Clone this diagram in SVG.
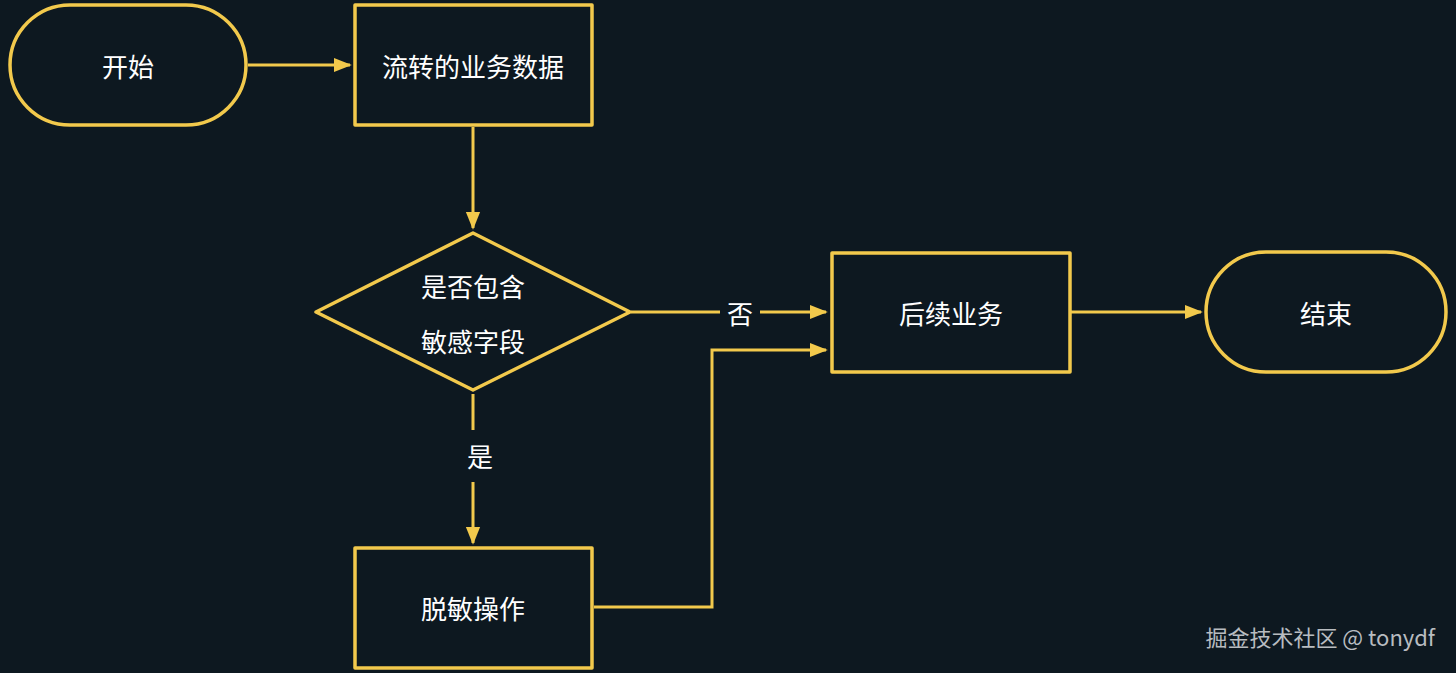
<svg xmlns="http://www.w3.org/2000/svg" width="1456" height="673" viewBox="0 0 1456 673">
<style>
.s{fill:none;stroke:#f2c94c;stroke-width:3.5;stroke-linejoin:round}
.c{fill:none;stroke:#f2c94c;stroke-width:3}
.t{fill:#ffffff;font-family:"Noto Sans CJK SC",sans-serif;font-size:26px;text-anchor:middle;dominant-baseline:central}
</style>
<defs><marker id="a" viewBox="0 0 10 10" refX="9" refY="5" markerWidth="6" markerHeight="6" orient="auto"><path d="M0,1 L10,5 L0,9 Z" fill="#f2c94c"/></marker></defs>
<rect width="1456" height="673" fill="#0d1820"/>
<g id="start"><rect class="s" x="10" y="5" width="236" height="120" rx="60"/><text class="t" x="128" y="65">开始</text></g>
<g id="data"><rect class="s" x="355" y="5" width="237" height="120"/><text class="t" x="473" y="65">流转的业务数据</text></g>
<g id="check"><path class="s" d="M473,233 L630,312 L473,390 L316,312 Z"/><text class="t" x="473" y="285">是否包含</text><text class="t" x="473" y="340">敏感字段</text></g>
<g id="mask"><rect class="s" x="355" y="548" width="237" height="120"/><text class="t" x="473" y="607">脱敏操作</text></g>
<g id="follow"><rect class="s" x="832" y="253" width="238" height="119"/><text class="t" x="951" y="312">后续业务</text></g>
<g id="end"><rect class="s" x="1206" y="252" width="240" height="120" rx="60"/><text class="t" x="1326" y="312">结束</text></g>
<g id="connectors">
<path class="c" d="M248,65 L350,65" marker-end="url(#a)"/>
<path class="c" d="M473,127 L473,228" marker-end="url(#a)"/>
<path class="c" d="M473,394 L473,430 M473,482 L473,543" marker-end="url(#a)"/>
<text class="t" x="480" y="455">是</text>
<path class="c" d="M631,312 L720,312 M760,312 L826,312" marker-end="url(#a)"/>
<text class="t" x="740" y="312">否</text>
<path class="c" d="M594,607 L712,607 L712,350 L826,350" marker-end="url(#a)"/>
<path class="c" d="M1071,312 L1201,312" marker-end="url(#a)"/>
</g>
<text x="1435" y="646" fill="#b8bcc0" font-family="Noto Sans CJK SC, sans-serif" font-size="22" text-anchor="end">掘金技术社区 @ tonydf</text>
</svg>
